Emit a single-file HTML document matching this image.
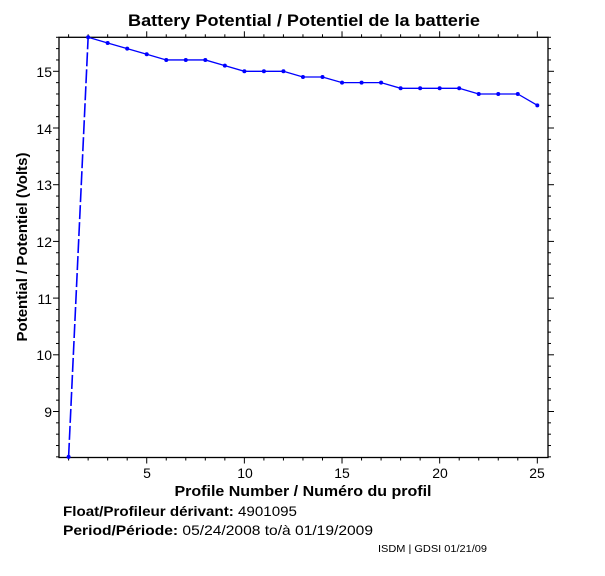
<!DOCTYPE html>
<html><head><meta charset="utf-8"><style>
html,body{margin:0;padding:0;background:#fff;}
svg{display:block;font-family:"Liberation Sans",Arial,sans-serif;}
</style></head><body>
<svg id="s" width="605" height="576" viewBox="0 0 605 576" xmlns="http://www.w3.org/2000/svg">
<rect width="605" height="576" fill="#fff"/>
<text x="304" y="26" text-anchor="middle" font-size="17" font-weight="bold" textLength="352" lengthAdjust="spacingAndGlyphs">Battery Potential / Potentiel de la batterie</text>
<rect x="59" y="37.3" width="489" height="420.2" fill="none" stroke="#000" stroke-width="1.3"/>
<g id="ticks" stroke="#000" stroke-width="1"></g>
<g font-size="14" text-anchor="end">
<text x="52" y="77">15</text><text x="52" y="134">14</text><text x="52" y="190">13</text>
<text x="52" y="247">12</text><text x="52" y="304">11</text><text x="52" y="360">10</text>
<text x="52" y="417">9</text>
</g>
<g font-size="14" text-anchor="middle">
<text x="147" y="478">5</text><text x="245" y="478">10</text><text x="342" y="478">15</text>
<text x="440" y="478">20</text><text x="537" y="478">25</text>
</g>
<text transform="translate(27,247) rotate(-90)" text-anchor="middle" font-size="15" font-weight="bold">Potential / Potentiel (Volts)</text>
<text x="303" y="496" text-anchor="middle" font-size="15" font-weight="bold" textLength="257" lengthAdjust="spacingAndGlyphs">Profile Number / Numéro du profil</text>
<text x="63" y="516" font-size="14" textLength="234" lengthAdjust="spacingAndGlyphs"><tspan font-weight="bold">Float/Profileur dérivant: </tspan>4901095</text>
<text x="63" y="535" font-size="14" textLength="310" lengthAdjust="spacingAndGlyphs"><tspan font-weight="bold">Period/Période: </tspan>05/24/2008  to/à  01/19/2009</text>
<text x="378" y="552" font-size="10" textLength="109" lengthAdjust="spacingAndGlyphs">ISDM | GDSI 01/21/09</text>
<g id="data"></g>
</svg>
<script>
var ns="http://www.w3.org/2000/svg";
function X(v){return 68.6+(v-1)*19.53;}
function Y(v){return 71.3+(15-v)*56.7;}
var t=document.getElementById("ticks");
function ln(g,x1,y1,x2,y2,st,w){var l=document.createElementNS(ns,"line");l.setAttribute("x1",x1);l.setAttribute("y1",y1);l.setAttribute("x2",x2);l.setAttribute("y2",y2);if(st)l.setAttribute("stroke",st);if(w)l.setAttribute("stroke-width",w);g.appendChild(l);return l;}
for(var i=1;i<=25;i++){var x=X(i),L=(i%5==0)?6:3;ln(t,x,457.5,x,457.5+L);ln(t,x,37.3,x,37.3-L);}
for(var k=0;k<=37;k++){var v=8.2+k*0.2;var y=Y(v);if(y<37||y>458)continue;var maj=Math.abs(v-Math.round(v))<0.01;var L=maj?6:3;ln(t,59,y,59-L,y);ln(t,548,y,548+L,y);}
var d=[8.2,15.6,15.5,15.4,15.3,15.2,15.2,15.2,15.1,15.0,15.0,15.0,14.9,14.9,14.8,14.8,14.8,14.7,14.7,14.7,14.7,14.6,14.6,14.6,14.4];
var g=document.getElementById("data");
var l0=ln(g,X(1),Y(d[0]),X(2),Y(d[1]),"#0000ff",1.6);l0.setAttribute("stroke-dasharray","14,3");
var pts="";for(var i=1;i<d.length;i++)pts+=X(i+1)+","+Y(d[i])+" ";
var p=document.createElementNS(ns,"polyline");p.setAttribute("points",pts);p.setAttribute("fill","none");p.setAttribute("stroke","#0000ff");p.setAttribute("stroke-width","1.3");g.appendChild(p);
for(var i=0;i<d.length;i++){var c=document.createElementNS(ns,"circle");c.setAttribute("cx",X(i+1));c.setAttribute("cy",Y(d[i]));c.setAttribute("r",2);c.setAttribute("fill","#0000ff");g.appendChild(c);}
</script>
</body></html>
